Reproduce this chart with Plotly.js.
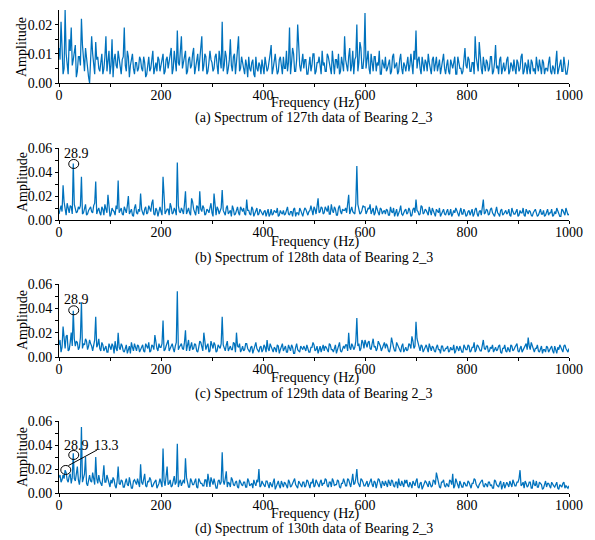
<!DOCTYPE html>
<html>
<head>
<meta charset="utf-8">
<script src="https://cdn.plot.ly/plotly-3.0.1.min.js"></script>
<style>html,body{margin:0;padding:0;background:#fff;}#chart{width:595px;height:540px;}</style>
</head>
<body>
<div id="chart"></div>
<script>
// Frequency bin spacing (Hz) of the read-off spectra
var binStepHz = 2;
// Amplitudes, in units of 0.001.
// "Even" arrays: bins at 0,4,8,...,1000 Hz ; "Odd" arrays: bins at 2,6,10,...,998 Hz
var amp127Even = [
12,21,3,25,6,15,19,8,13,4,
9,22,7,12,5,0,16,6,14,9,
4,10,5,16,7,3,15,8,6,11,
5,8,19,4,9,6,10,3,7,5,
8,4,7,3,9,5,11,6,4,8,
6,10,4,9,7,12,5,8,18,6,
16,7,11,4,9,6,12,5,10,8,
16,6,9,4,11,7,5,10,3,8,
21,6,9,5,15,4,10,7,16,5,
7,3,6,9,4,8,2,5,7,3,
6,9,4,7,13,5,10,3,8,6,
9,5,4,19,7,10,4,20,6,8,
5,8,3,9,6,10,4,7,5,11,
7,4,9,5,11,3,8,10,4,7,
16,6,9,4,11,8,20,7,12,5,
24,8,5,10,4,9,7,11,3,6,
9,5,8,4,10,6,3,8,5,7,
4,9,6,7,11,18,8,5,9,4,
7,10,5,8,4,9,6,3,8,5,
6,4,8,5,9,3,7,5,4,12,
5,8,4,7,16,6,14,5,9,4,
7,5,9,4,13,6,8,3,7,5,
9,4,6,8,3,7,5,10,4,6,
8,3,7,5,9,4,6,8,3,5,
7,4,6,3,11,5,8,4,6,3,8];
var amp127Odd = [
8,14,5,10,3,11,6,10,2,9,
6,13,4,8,2,7,10,3,8,5,
7,3,9,4,11,6,2,10,5,8,
3,9,6,11,2,8,5,7,4,9,
5,9,2,6,4,8,3,7,9,4,
9,3,8,5,10,3,11,4,7,10,
5,9,3,8,5,10,3,7,4,11,
4,10,3,7,8,4,9,6,11,5,
4,11,3,8,6,9,3,12,4,9,
4,8,2,5,7,3,9,4,6,8,
3,7,5,10,3,8,6,4,9,3,
5,11,7,3,12,4,8,11,4,10,
8,3,6,4,10,3,7,9,3,6,
4,10,6,3,7,8,5,3,9,4,
8,4,12,6,3,9,4,14,5,9,
5,11,3,7,9,4,6,3,8,5,
4,7,3,9,5,7,4,10,3,6,
7,4,10,3,8,5,9,3,6,8,
4,7,3,9,6,4,8,5,10,3,
8,3,6,7,3,9,5,3,8,6,
9,4,7,3,9,4,8,3,6,8,
4,9,3,7,5,3,9,5,4,8,
3,7,4,5,8,4,9,3,7,3,
5,8,4,3,6,8,3,7,5,4,
9,3,5,8,3,7,4,9,3,5];
var amp128Even = [
5,12,29,8,14,6,11,47,10,7,
9,36,6,13,5,10,7,12,32,8,
6,11,4,9,21,3,10,7,12,33,
8,5,11,6,20,7,4,10,6,9,
22,6,9,5,12,7,17,4,8,6,
7,36,5,9,4,11,6,8,48,7,
10,5,24,8,6,18,9,4,11,24,
7,10,5,8,11,6,22,4,9,7,
25,6,10,5,8,12,4,9,6,11,
7,5,17,8,4,9,6,10,5,7,
4,8,6,3,9,5,7,10,4,6,
8,5,11,4,7,9,3,6,10,5,
7,9,4,8,6,11,5,18,7,10,
6,9,12,5,8,11,4,10,7,9,
8,6,21,9,7,5,45,10,6,12,
11,7,9,5,10,6,8,4,9,7,
5,8,4,7,10,6,3,8,5,7,
9,6,8,4,10,17,7,5,11,6,
8,4,7,10,5,9,6,3,8,5,
7,4,9,5,6,8,3,10,5,7,
4,8,6,3,9,5,7,4,17,6,
8,5,10,4,7,6,3,9,5,8,
6,4,10,5,7,3,8,6,4,9,
5,7,3,8,6,4,9,5,3,7,
4,6,3,7,10,5,3,8,4,6,5];
var amp128Odd = [
9,7,15,4,9,12,5,13,6,11,
12,5,9,4,8,11,6,14,5,10,
4,9,13,6,10,5,8,4,9,6,
10,4,8,12,5,9,3,13,5,7,
9,4,11,6,8,14,5,10,3,11,
4,12,7,9,14,5,10,4,12,6,
8,13,5,10,4,15,6,12,5,9,
12,4,9,6,14,3,8,11,5,10,
8,4,12,7,3,9,5,11,4,8,
10,4,8,5,11,3,7,4,9,6,
7,3,9,5,4,8,6,3,8,5,
4,9,5,7,3,10,6,4,8,3,
10,5,7,12,4,9,13,6,11,5,
11,7,5,13,6,9,4,12,5,8,
10,12,5,11,6,14,13,5,8,11,
5,10,13,7,4,12,6,10,5,8,
9,4,11,6,3,9,5,12,4,8,
5,10,3,9,6,8,4,12,5,9,
5,11,4,8,3,7,10,5,9,4,
9,5,3,8,10,4,7,5,9,3,
7,4,9,5,10,3,8,11,5,9,
4,9,6,3,11,5,8,4,7,5,
9,3,7,5,9,4,6,10,3,7,
8,4,6,9,3,7,5,8,4,9,
6,9,4,5,8,3,9,5,10,4];
var amp129Even = [
10,4,25,7,18,6,20,38,9,12,
8,45,11,15,6,14,9,12,33,10,
7,12,5,9,4,8,11,3,7,20,
6,9,4,10,7,3,8,11,5,9,
6,10,4,8,12,5,9,18,7,11,
8,30,6,12,5,10,7,9,54,8,
11,6,22,9,5,12,7,10,4,13,
8,20,6,11,5,9,12,4,10,7,
33,7,10,5,9,6,11,20,8,4,
9,6,11,5,8,3,10,7,4,9,
6,8,14,5,9,4,7,10,3,8,
5,9,4,7,10,3,8,6,4,7,
9,5,7,4,8,10,6,3,9,7,
5,8,4,10,6,7,3,9,5,8,
7,10,20,6,9,8,32,11,7,12,
14,8,13,6,15,9,7,11,5,10,
7,9,4,16,8,5,10,6,9,4,
8,6,10,17,7,29,12,5,9,6,
10,4,7,9,5,8,6,3,9,5,
7,4,8,6,3,9,5,7,4,8,
6,9,5,8,4,10,7,5,14,6,
9,5,7,4,8,6,10,3,7,5,
8,4,9,6,10,5,7,4,8,11,
16,6,9,4,7,5,8,3,6,9,
4,7,5,9,3,6,8,4,10,5,7];
var amp129Odd = [
14,8,11,17,5,12,9,15,13,6,
16,7,10,13,9,11,5,14,8,15,
5,10,8,4,11,6,9,13,5,8,
11,5,8,3,9,12,5,7,10,4,
9,5,11,7,4,10,6,12,5,8,
11,5,9,14,7,11,4,12,6,10,
7,12,5,14,9,6,11,5,8,12,
5,11,9,4,13,7,10,5,8,11,
10,5,13,8,6,12,4,9,11,6,
5,11,7,4,9,6,12,5,8,4,
10,4,7,11,6,8,4,9,6,11,
7,4,10,5,8,3,11,5,9,6,
6,10,4,8,12,5,9,7,4,10,
9,5,11,6,4,10,7,12,4,9,
10,5,8,11,6,13,9,5,14,7,
10,12,7,11,8,5,13,9,7,12,
11,5,8,10,5,12,7,4,11,7,
5,11,7,13,9,15,7,10,4,8,
7,11,5,8,4,10,6,9,5,7,
9,5,6,10,5,7,9,4,10,6,
10,4,8,12,6,9,5,11,7,9,
4,8,10,6,5,9,4,7,10,4,
6,10,5,8,11,4,9,6,10,6,
9,12,5,7,10,4,9,6,4,8,
6,9,3,6,8,10,5,9,7,4];
var amp130Even = [
13,9,15,19,11,14,8,33,10,22,
7,55,12,30,6,15,9,11,30,8,
10,6,23,9,12,5,8,11,4,22,
7,10,5,12,6,9,4,11,7,8,
24,7,16,5,9,11,6,10,4,8,
9,37,6,22,8,5,10,7,41,9,
6,11,29,8,5,10,7,12,4,9,
8,6,11,16,5,9,12,4,10,7,
34,7,18,9,5,11,6,10,4,8,
6,9,5,10,7,4,8,11,20,6,
8,5,10,4,7,9,3,8,6,10,
5,8,4,9,6,11,7,4,8,5,
9,6,10,4,8,5,11,7,9,6,
8,11,5,9,12,6,7,10,4,8,
9,6,11,5,16,8,20,7,12,9,
6,10,8,12,5,9,7,11,4,8,
10,5,8,11,6,9,4,7,10,5,
8,6,9,4,7,10,5,8,3,7,
9,5,8,6,10,17,7,4,9,6,
8,5,10,16,6,9,4,7,5,8,
6,9,4,8,11,5,7,10,6,8,
5,9,7,4,10,6,8,3,9,6,
7,10,5,8,6,9,19,7,4,8,
6,9,4,7,10,5,8,3,7,5,
8,4,7,5,9,3,6,8,4,5,6];
var amp130Odd = [
15,11,12,17,9,16,13,12,15,11,
14,9,16,8,13,10,17,7,12,15,
7,13,9,15,8,11,13,6,10,8,
11,5,9,7,13,4,10,8,12,5,
9,12,6,10,13,5,8,11,6,12,
5,10,12,7,11,6,14,9,5,11,
10,8,13,5,12,7,10,5,12,8,
6,11,5,9,13,7,8,4,11,9,
10,12,5,8,13,7,9,5,11,7,
9,5,12,6,8,11,6,9,5,10,
6,10,7,9,5,12,6,10,4,8,
9,6,11,5,8,12,5,10,6,9,
5,11,7,9,12,6,9,5,11,8,
12,6,9,5,10,7,11,5,8,12,
6,12,8,10,7,12,9,5,11,6,
9,5,11,7,10,4,12,7,10,6,
8,11,6,10,5,9,12,6,8,11,
11,5,7,10,6,12,4,9,6,10,
6,10,5,11,7,12,5,9,11,5,
6,11,7,4,12,7,10,5,9,6,
10,5,8,12,7,4,9,11,5,7,
9,6,4,11,7,5,10,6,4,9,
5,8,11,6,9,12,6,9,10,5,
9,4,11,6,5,9,7,4,10,8,
5,9,6,8,4,7,5,9,6,4];

var captions = [
  "(a) Spectrum of 127th data of Bearing 2_3",
  "(b) Spectrum of 128th data of Bearing 2_3",
  "(c) Spectrum of 129th data of Bearing 2_3",
  "(d) Spectrum of 130th data of Bearing 2_3"
];
var xTickVals = [0, 200, 400, 600, 800, 1000];
var yTickVals1 = [0, 0.01, 0.02];
var yTickVals = [0, 0.02, 0.04, 0.06];
var markFreq = [28.9, 28.9, 28.9, 13.3];
var markAmp  = [0.0467, 0.0384, 0.0317, 0.0192];
var markLabel = ["28.9", "28.9", "28.9", "13.3"];
var markPanel = [2, 3, 4, 4];

var W = 595, H = 540;
function py(p) { return 1 - p / H; }
function px(p) { return p / W; }

function merge(ev, od) {
  var out = [];
  for (var i = 0; i < ev.length; i++) {
    out.push(ev[i]);
    if (i < od.length) out.push(od[i]);
  }
  return out;
}
var series = [
  merge(amp127Even, amp127Odd),
  merge(amp128Even, amp128Odd),
  merge(amp129Even, amp129Odd),
  merge(amp130Even, amp130Odd)
];
var blue = "#0072BD";
var font = "Liberation Serif, Times New Roman, serif";

var traces = series.map(function (arr, k) {
  return {
    x: arr.map(function (v, i) { return i * binStepHz; }),
    y: arr.map(function (v) { return v / 1000; }),
    type: "scatter", mode: "lines",
    line: { color: blue, width: 1.25 },
    xaxis: k === 0 ? "x" : "x" + (k + 1),
    yaxis: k === 0 ? "y" : "y" + (k + 1),
    hoverinfo: "skip", showlegend: false
  };
});

var panels = [[83, 10], [220, 148], [357, 284], [493, 421]];
var xLeft = 59, xRight = 569;
var freqLabelY = [103, 242, 378, 514];
var captionY = [118, 258, 394, 529];
var ampLabelY = [47, 182, 320, 457];

var layout = {
  width: W, height: H,
  margin: { l: 0, r: 0, t: 0, b: 0 },
  paper_bgcolor: "#fff", plot_bgcolor: "#fff",
  font: { family: font, size: 14, color: "#000" },
  showlegend: false,
  annotations: [], shapes: []
};

panels.forEach(function (pp, k) {
  var xn = k === 0 ? "xaxis" : "xaxis" + (k + 1);
  var yn = k === 0 ? "yaxis" : "yaxis" + (k + 1);
  var yid = k === 0 ? "y" : "y" + (k + 1);
  var xid = k === 0 ? "x" : "x" + (k + 1);
  layout[xn] = {
    domain: [px(xLeft), px(xRight)], anchor: yid,
    range: [0, 1000], tickvals: xTickVals,
    ticks: "outside", ticklen: 3, tickwidth: 1, tickcolor: "#000",
    ticklabelstandoff: -4,
    minor: { tickvals: [100, 300, 500, 700, 900], ticks: "outside", ticklen: 3, tickcolor: "#000", tickwidth: 1 },
    showline: true, linecolor: "#000", linewidth: 1, mirror: false,
    showgrid: false, zeroline: false,
    tickfont: { family: font, size: 14, color: "#000" }
  };
  layout[yn] = {
    domain: [py(pp[0]), py(pp[1])], anchor: xid,
    range: k === 0 ? [0, 0.025] : [0, 0.06],
    tickvals: k === 0 ? yTickVals1 : yTickVals,
    tickformat: ".2f",
    ticks: "outside", ticklen: 3, tickwidth: 1, tickcolor: "#000",
    minor: k === 0 ? { tickvals: [0.005, 0.015], ticks: "outside", ticklen: 3, tickcolor: "#000", tickwidth: 1 }
                   : { tickvals: [0.01, 0.03, 0.05], ticks: "outside", ticklen: 3, tickcolor: "#000", tickwidth: 1 },
    showline: true, linecolor: "#000", linewidth: 1,
    showgrid: false, zeroline: false,
    tickfont: { family: font, size: 14, color: "#000" }
  };
  layout.annotations.push({
    xref: "paper", yref: "paper", x: px(315), y: py(freqLabelY[k]),
    xanchor: "center", yanchor: "middle", showarrow: false,
    text: "Frequency (Hz)", font: { family: font, size: 14, color: "#000" }
  });
  layout.annotations.push({
    xref: "paper", yref: "paper", x: px(314), y: py(captionY[k]),
    xanchor: "center", yanchor: "middle", showarrow: false,
    text: captions[k], font: { family: font, size: 14, color: "#000" }
  });
  layout.annotations.push({
    xref: "paper", yref: "paper", x: px(22), y: py(ampLabelY[k]),
    xanchor: "center", yanchor: "middle", showarrow: false, textangle: -90,
    text: "Amplitude", font: { family: font, size: 14, color: "#000" }
  });
});

markFreq.forEach(function (f, j) {
  var k = markPanel[j] - 1;
  var xid = k === 0 ? "x" : "x" + (k + 1);
  var yid = k === 0 ? "y" : "y" + (k + 1);
  layout.shapes.push({
    type: "circle", xref: xid, yref: yid,
    xsizemode: "pixel", ysizemode: "pixel",
    xanchor: f, yanchor: markAmp[j],
    x0: -5, x1: 5, y0: -4.5, y1: 4.5,
    line: { color: "#000", width: 1 }, fillcolor: "rgba(0,0,0,0)"
  });
});
var labelPos = [[76, 153], [76, 299], [76, 445], [106, 445]];
markLabel.forEach(function (t, j) {
  layout.annotations.push({
    xref: "paper", yref: "paper", x: px(labelPos[j][0]), y: py(labelPos[j][1]),
    xanchor: "center", yanchor: "middle", showarrow: false,
    text: t, font: { family: font, size: 14, color: "#000" }
  });
});
layout.shapes.push({
  type: "line", xref: "paper", yref: "paper",
  x0: px(68.5), y0: py(465.5), x1: px(97), y1: py(450),
  line: { color: "#000", width: 1 }
});

Plotly.newPlot("chart", traces, layout, { staticPlot: true, displayModeBar: false });
</script>
</body>
</html>
